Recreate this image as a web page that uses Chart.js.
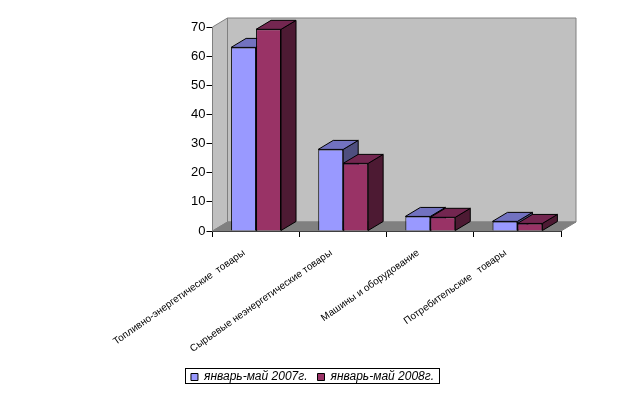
<!DOCTYPE html>
<html>
<head>
<meta charset="utf-8">
<style>
  html, body { margin: 0; padding: 0; background: #fff; }
  #wrap { position: relative; width: 625px; height: 393px; }
</style>
<script src="https://cdn.jsdelivr.net/npm/chart.js@4"></script>
</head>
<body>
<div id="wrap"><canvas id="chart"></canvas></div>
<script>
const categories = [
    "Топливно-энергетические  товары",
    "Сырьевые неэнергетические товары",
    "Машины и оборудование",
    "Потребительские   товары",
];
const seriesNames = ["январь-май 2007г.", "январь-май 2008г."];
const values2007 = [63, 28, 5, 3.3];
const values2008 = [69.2, 23.2, 4.7, 2.6];
const yTicks = [0, 10, 20, 30, 40, 50, 60, 70];

const DEPTH_X = 15;
const DEPTH_Y = 9;

function poly(ctx, pts, fill, stroke) {
    ctx.beginPath();
    pts.forEach((p, i) => (i ? ctx.lineTo(p[0], p[1]) : ctx.moveTo(p[0], p[1])));
    ctx.closePath();
    ctx.fillStyle = fill;
    ctx.fill();
    if (stroke) {
        ctx.strokeStyle = stroke;
        ctx.lineWidth = 1;
        ctx.stroke();
    }
}

// walls, floor and the side/top faces of the bars; the fronts are drawn by Chart.js afterwards
const fake3d = {
    id: "fake3d",
    beforeDatasetsDraw(chart) {
        const { ctx, chartArea: a } = chart;
        const t = chart.scales.y.getPixelForValue(70);
        const b = chart.scales.y.getPixelForValue(0);
        const dx = DEPTH_X, dy = DEPTH_Y;
        ctx.save();
        poly(ctx, [[a.left, b], [a.left + dx, b - dy], [a.left + dx, t - dy], [a.left, t]], "#c0c0c0", "#808080");
        poly(ctx, [[a.left + dx, b - dy], [a.right + dx, b - dy], [a.right + dx, t - dy], [a.left + dx, t - dy]], "#c0c0c0", "#808080");
        poly(ctx, [[a.left, b], [a.right, b], [a.right + dx, b - dy], [a.left + dx, b - dy]], "#808080", "#808080");

        const faces = [["#7272c0", "#4f4f7f"], ["#732650", "#4d1a33"]];
        chart.data.datasets.forEach((ds, i) => {
            chart.getDatasetMeta(i).data.forEach((bar) => {
                const l = bar.x - bar.width / 2, r = bar.x + bar.width / 2;
                poly(ctx, [[r, bar.base], [r + dx, bar.base - dy], [r + dx, bar.y - dy], [r, bar.y]], faces[i][1], "#000");
                poly(ctx, [[l, bar.y], [l + dx, bar.y - dy], [r + dx, bar.y - dy], [r, bar.y]], faces[i][0], "#000");
            });
        });
        ctx.restore();
    },
    afterDraw(chart) {
        // legend frame
        const { ctx } = chart;
        ctx.save();
        ctx.strokeStyle = "#000";
        ctx.lineWidth = 1;
        ctx.strokeRect(185.5, 368.5, 254, 15);
        ctx.restore();
    },
};

new Chart(document.getElementById("chart"), {
    type: "bar",
    data: {
        labels: categories,
        datasets: [
            { label: seriesNames[0], data: values2007, backgroundColor: "#9999ff", borderColor: "#000", borderWidth: 1 },
            { label: seriesNames[1], data: values2008, backgroundColor: "#993366", borderColor: "#000", borderWidth: 1 },
        ],
    },
    options: {
        responsive: true,
        maintainAspectRatio: false,
        animation: false,
        layout: { padding: { left: 64, right: 64, top: 27, bottom: 0 } },
        datasets: { bar: { categoryPercentage: 0.573, barPercentage: 1 } },
        plugins: {
            tooltip: { enabled: false },
            legend: {
                position: "bottom",
                labels: {
                    boxWidth: 7,
                    boxHeight: 7,
                    padding: 10,
                    color: "#000",
                    font: { family: "Liberation Sans", size: 12, style: "italic" },
                },
            },
        },
        scales: {
            x: {
                afterFit: (s) => { s.height = 130; },
                border: { color: "#000" },
                grid: { drawOnChartArea: false, tickLength: 6, color: "#000" },
                ticks: {
                    color: "#000",
                    autoSkip: false,
                    minRotation: 35,
                    maxRotation: 35,
                    labelOffset: -12,
                    padding: 10,
                    font: { family: "Liberation Sans", size: 10 },
                },
            },
            y: {
                min: 0,
                max: 70,
                afterFit: (s) => { s.width = 148.5; },
                afterBuildTicks: (s) => { s.ticks = yTicks.map((v) => ({ value: v })); },
                border: { color: "#000" },
                grid: { drawOnChartArea: false, tickLength: 6, color: "#000" },
                ticks: { color: "#000", padding: 1, font: { family: "Liberation Sans", size: 13 } },
            },
        },
    },
    plugins: [fake3d],
});
</script>
</body>
</html>
